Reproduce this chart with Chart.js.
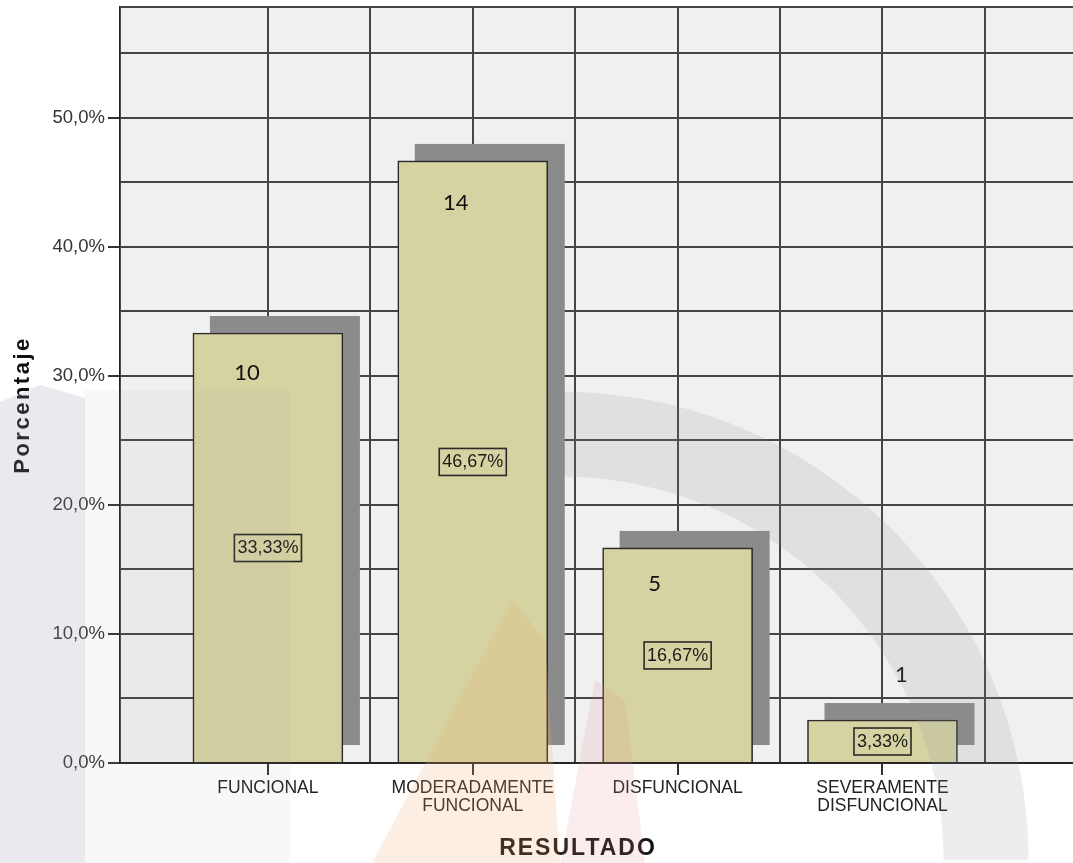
<!DOCTYPE html>
<html>
<head>
<meta charset="utf-8">
<script src="https://cdn.jsdelivr.net/npm/chart.js@4.4.1/dist/chart.umd.min.js"></script>
<style>
  html, body { margin: 0; padding: 0; background: #fff; }
  #wrap { width: 1073px; height: 863px; }
</style>
</head>
<body>
<div id="wrap"><canvas id="chart" width="1073" height="863"></canvas></div>
<script>
// --- data ---
const categories = [
    ["FUNCIONAL"],
    ["MODERADAMENTE", "FUNCIONAL"],
    ["DISFUNCIONAL"],
    ["SEVERAMENTE", "DISFUNCIONAL"]
];
const percentages = [33.33, 46.67, 16.67, 3.33];
const counts = [10, 14, 5, 1];
const yTicks = [0, 10, 20, 30, 40, 50];
const yMax = 58.6;

// --- styling ---
const barFill = '#d5d3a1';
const shadowFill = '#8b8b8b';
const gridColor = '#454545';
const shadowOffset = 17;
// where the count labels sit, relative to the bar top
const countDx = [-21, -17, -23, 19];
const countDy = [40, 42, 36, -45];

const pct = v => v.toFixed(2).replace('.', ',') + '%';
const tickPct = v => v.toFixed(1).replace('.', ',') + '%';

const points = percentages.map((v, i) => ({ x: i + 1, y: v }));

// grey block behind each bar, shifted up and right
const shadowPlugin = {
    id: 'shadow',
    beforeDatasetsDraw(chart) {
        const ctx = chart.ctx;
        const meta = chart.getDatasetMeta(0);
        ctx.save();
        ctx.fillStyle = shadowFill;
        meta.data.forEach(bar => {
            const w = bar.width;
            ctx.fillRect(bar.x - w / 2 + shadowOffset, bar.y - shadowOffset, w, bar.base - bar.y);
        });
        ctx.restore();
    }
};

const labelPlugin = {
    id: 'labels',
    afterDatasetsDraw(chart) {
        const ctx = chart.ctx;
        const meta = chart.getDatasetMeta(0);
        ctx.save();
        meta.data.forEach((bar, i) => {
            // boxed percentage in the middle of the bar
            const mid = (bar.y + bar.base) / 2;
            ctx.font = '18px "Liberation Sans", Arial, sans-serif';
            ctx.textAlign = 'center';
            ctx.textBaseline = 'middle';
            const txt = pct(percentages[i]);
            const tw = ctx.measureText(txt).width;
            ctx.strokeStyle = '#2a2a2a';
            ctx.lineWidth = 1.6;
            ctx.strokeRect(bar.x - tw / 2 - 3, mid - 13, tw + 6, 27);
            ctx.fillStyle = '#1a1a1a';
            ctx.fillText(txt, bar.x, mid + 1);

            // count
            ctx.font = '22px Lato, "Open Sans", sans-serif';
            ctx.fillStyle = '#111';
            ctx.fillText(String(counts[i]), bar.x + countDx[i], bar.y + countDy[i]);
        });
        ctx.restore();
    }
};

const titlePlugin = {
    id: 'titles',
    afterDraw(chart) {
        const ctx = chart.ctx;
        ctx.save();
        ctx.fillStyle = '#111';
        ctx.textAlign = 'center';
        ctx.textBaseline = 'middle';
        ctx.font = 'bold 23px "Liberation Sans", Arial, sans-serif';
        ctx.letterSpacing = '2px';
        ctx.fillText('RESULTADO', 578, 849);

        ctx.translate(29, 405);
        ctx.rotate(-Math.PI / 2);
        ctx.textBaseline = 'alphabetic';
        ctx.font = 'bold 22px "Liberation Sans", Arial, sans-serif';
        ctx.letterSpacing = '2.5px';
        ctx.fillText('Porcentaje', 0, 0);
        ctx.restore();
    }
};

// faint watermark from the scanned page
const watermarkPlugin = {
    id: 'watermark',
    afterDraw(chart) {
        const ctx = chart.ctx;
        ctx.save();
        ctx.fillStyle = 'rgba(150,150,170,0.2)';
        ctx.beginPath();
        ctx.moveTo(0, 402); ctx.lineTo(40, 385); ctx.lineTo(85, 398);
        ctx.lineTo(85, 863); ctx.lineTo(0, 863); ctx.closePath();
        ctx.fill();

        ctx.fillStyle = 'rgba(150,150,170,0.07)';
        ctx.fillRect(85, 390, 205, 473);

        // big arch on the right
        ctx.beginPath();
        ctx.rect(553, 0, 520, 863);
        ctx.clip();
        ctx.strokeStyle = 'rgba(140,140,160,0.16)';
        ctx.lineWidth = 85;
        ctx.beginPath();
        ctx.arc(560, 860, 426, Math.PI * 1.45, Math.PI * 2.0);
        ctx.stroke();
        ctx.restore();

        // warm shapes near the bottom middle
        ctx.save();
        ctx.fillStyle = 'rgba(240,170,110,0.2)';
        ctx.beginPath();
        ctx.moveTo(372, 863); ctx.lineTo(512, 600); ctx.lineTo(545, 640);
        ctx.lineTo(560, 863); ctx.closePath();
        ctx.fill();
        ctx.fillStyle = 'rgba(230,140,140,0.16)';
        ctx.beginPath();
        ctx.moveTo(560, 863); ctx.lineTo(595, 680); ctx.lineTo(625, 700);
        ctx.lineTo(645, 863); ctx.closePath();
        ctx.fill();
        ctx.restore();
    }
};

const plotBg = {
    id: 'plotBg',
    beforeDraw(chart) {
        const a = chart.chartArea;
        chart.ctx.save();
        chart.ctx.fillStyle = '#f0f0f0';
        chart.ctx.fillRect(a.left, a.top, a.right - a.left, a.bottom - a.top);
        chart.ctx.restore();
    }
};

const near = (v, step) => Math.abs(v / step - Math.round(v / step)) < 1e-6;

new Chart(document.getElementById('chart'), {
    type: 'bar',
    data: {
        datasets: [{
            data: points,
            backgroundColor: barFill,
            borderColor: '#2b2b2b',
            borderWidth: 1.6,
            barThickness: 150
        }]
    },
    options: {
        responsive: false,
        animation: false,
        layout: { padding: { top: 7, right: 0, left: 0, bottom: 0 } },
        plugins: {
            legend: { display: false },
            tooltip: { enabled: false }
        },
        scales: {
            x: {
                type: 'linear',
                offset: false,
                min: 0.278,
                max: 4.93,
                afterBuildTicks: s => { s.ticks = s.ticks.filter(t => near(t.value, 0.5) && t.value > 0.3 && t.value < 4.9); },
                afterFit: s => { s.height = 100; s.paddingLeft = 0; s.paddingRight = 0; },
                ticks: {
                    stepSize: 0.5,
                    autoSkip: false,
                    maxRotation: 0,
                    padding: 4,
                    color: '#222',
                    font: { family: '"Liberation Sans", Arial, sans-serif', size: 17.5, lineHeight: 1.02 },
                    callback: v => Number.isInteger(v) ? categories[v - 1] : ''
                },
                grid: {
                    offset: false,
                    color: gridColor,
                    lineWidth: 2,
                    tickLength: 12,
                    tickWidth: 2,
                    tickColor: c => (c.tick && Number.isInteger(c.tick.value)) ? '#333' : 'rgba(0,0,0,0)'
                },
                border: { color: '#222', width: 1.8 }
            },
            y: {
                min: 0,
                max: yMax,
                afterBuildTicks: s => { s.ticks = s.ticks.filter(t => near(t.value, 5) || t.value === yMax); },
                afterFit: s => { s.width = 120; s.paddingTop = 0; s.paddingBottom = 0; },
                ticks: {
                    stepSize: 5,
                    padding: 3,
                    color: '#333',
                    font: { family: '"Liberation Sans", Arial, sans-serif', size: 18.5 },
                    callback: v => yTicks.includes(v) ? tickPct(v) : ''
                },
                grid: {
                    color: gridColor,
                    lineWidth: 2,
                    tickLength: 12,
                    tickWidth: 2,
                    tickColor: c => (c.tick && yTicks.includes(c.tick.value)) ? '#333' : 'rgba(0,0,0,0)'
                },
                border: { color: '#222', width: 1.8 }
            }
        }
    },
    plugins: [plotBg, shadowPlugin, labelPlugin, titlePlugin, watermarkPlugin]
});
</script>
</body>
</html>
